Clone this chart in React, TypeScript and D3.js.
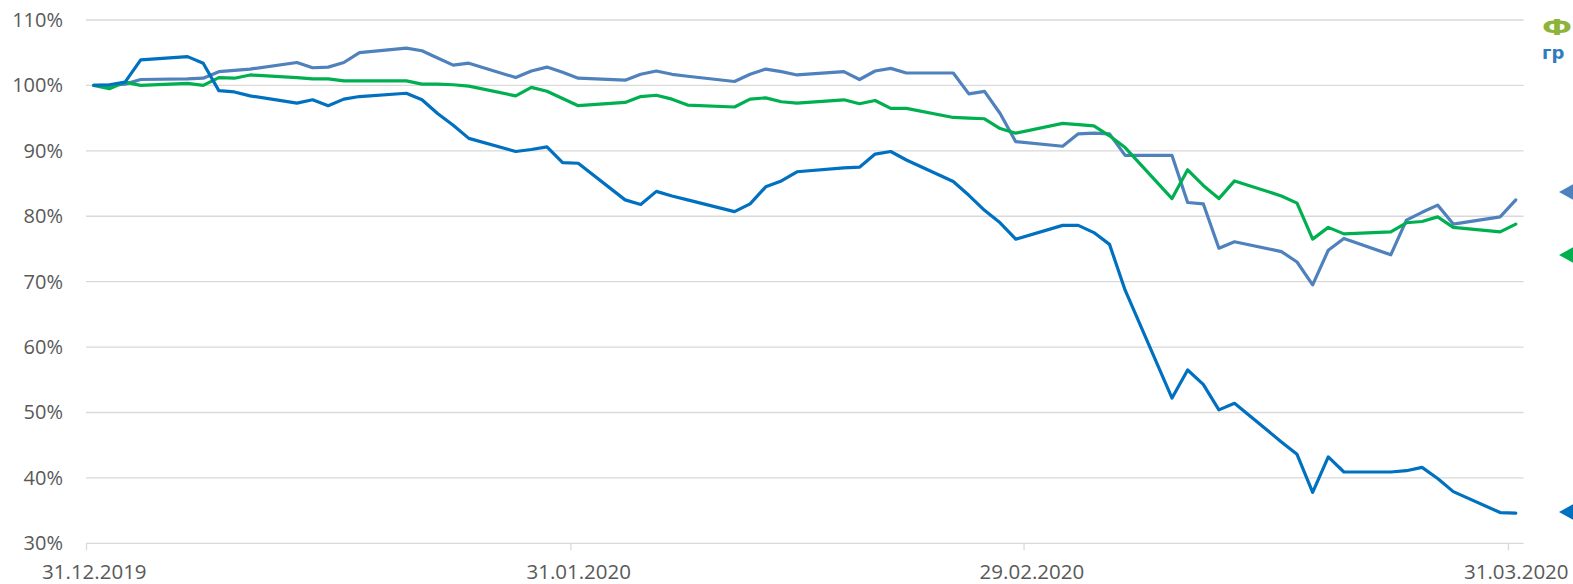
import { useEffect, useRef } from 'react';
import * as d3 from 'd3';

// trading days (weekdays) shown on the chart
const DATES = [
  '2019-12-31',
  '2020-01-01', '2020-01-02', '2020-01-03', '2020-01-06', '2020-01-07', '2020-01-08', '2020-01-09', '2020-01-10',
  '2020-01-13', '2020-01-14', '2020-01-15', '2020-01-16', '2020-01-17', '2020-01-20', '2020-01-21', '2020-01-22',
  '2020-01-23', '2020-01-24', '2020-01-27', '2020-01-28', '2020-01-29', '2020-01-30', '2020-01-31',
  '2020-02-03', '2020-02-04', '2020-02-05', '2020-02-06', '2020-02-07', '2020-02-10', '2020-02-11', '2020-02-12',
  '2020-02-13', '2020-02-14', '2020-02-17', '2020-02-18', '2020-02-19', '2020-02-20', '2020-02-21', '2020-02-24',
  '2020-02-25', '2020-02-26', '2020-02-27', '2020-02-28',
  '2020-03-02', '2020-03-03', '2020-03-04', '2020-03-05', '2020-03-06', '2020-03-09', '2020-03-10', '2020-03-11',
  '2020-03-12', '2020-03-13', '2020-03-16', '2020-03-17', '2020-03-18', '2020-03-19', '2020-03-20', '2020-03-23',
  '2020-03-24', '2020-03-25', '2020-03-26', '2020-03-27', '2020-03-30', '2020-03-31',
];

// light blue series, % of 31.12.2019
const LIGHT_BLUE = [
  100.0,
  100.0, 100.2, 100.9, 101.0, 101.1, 102.1, 102.3, 102.5,
  103.5, 102.7, 102.8, 103.5, 105.0, 105.7, 105.3, 104.2,
  103.1, 103.4, 101.2, 102.2, 102.8, 102.0, 101.1,
  100.8, 101.7, 102.2, 101.7, 101.4, 100.6, 101.7, 102.5,
  102.1, 101.6, 102.1, 100.9, 102.2, 102.6, 101.9, 101.9,
  98.7, 99.1, 95.7, 91.4,
  90.7, 92.6, 92.7, 92.6, 89.3, 89.3, 82.1, 81.9,
  75.1, 76.1, 74.6, 73.0, 69.5, 74.8, 76.6, 74.1,
  79.4, 80.6, 81.7, 78.8, 79.9, 82.5,
];

// green series
const GREEN = [
  100.0,
  99.5, 100.5, 100.0, 100.3, 100.0, 101.2, 101.1, 101.6,
  101.2, 101.0, 101.0, 100.7, 100.7, 100.7, 100.2, 100.2,
  100.1, 99.9, 98.4, 99.7, 99.1, 98.0, 96.9,
  97.4, 98.3, 98.5, 97.9, 97.0, 96.7, 97.9, 98.1,
  97.5, 97.3, 97.8, 97.2, 97.7, 96.5, 96.5, 95.1,
  95.0, 94.9, 93.4, 92.7,
  94.2, 94.0, 93.8, 92.3, 90.5, 82.7, 87.1, 84.7,
  82.7, 85.4, 83.1, 82.0, 76.5, 78.3, 77.3, 77.6,
  79.0, 79.2, 79.9, 78.3, 77.6, 78.8,
];

// dark blue series
const DARK_BLUE = [
  100.0,
  100.1, 100.5, 103.9, 104.4, 103.4, 99.2, 99.0, 98.4,
  97.3, 97.8, 96.9, 97.9, 98.3, 98.8, 97.8, 95.7,
  93.9, 91.9, 89.9, 90.2, 90.6, 88.2, 88.1,
  82.5, 81.8, 83.8, 83.1, 82.5, 80.7, 81.9, 84.5,
  85.4, 86.8, 87.4, 87.5, 89.5, 89.9, 88.6, 85.3,
  83.2, 80.9, 79.0, 76.5,
  78.6, 78.6, 77.5, 75.7, 68.7, 52.2, 56.5, 54.3,
  50.4, 51.4, 45.5, 43.6, 37.8, 43.2, 40.9, 40.9,
  41.1, 41.6, 39.9, 37.9, 34.7, 34.6,
];

const Y_TICKS = [30, 40, 50, 60, 70, 80, 90, 100, 110];
const X_TICKS = ['2019-12-31', '2020-01-31', '2020-02-29', '2020-03-31'];

const SERIES = [
  { key: 'lightBlue', values: LIGHT_BLUE, color: '#4f81bd' },
  { key: 'green', values: GREEN, color: '#00b050' },
  { key: 'darkBlue', values: DARK_BLUE, color: '#0070c0' },
];

// partially visible legend markers on the right edge
const LEGEND_MARKERS = [
  { color: '#4f81bd', y: 192 },
  { color: '#00b050', y: 255 },
  { color: '#0070c0', y: 512 },
];

const WIDTH = 1573;
const HEIGHT = 584;
const FONT = '"Open Sans", "Noto Sans", sans-serif';
const LOGO_FONT = '"DejaVu Sans", sans-serif';

export default function App() {
  const svgRef = useRef<SVGSVGElement>(null);

  useEffect(() => {
    if (!svgRef.current) return;
    const svg = d3.select(svgRef.current);
    svg.selectAll('*').remove();

    const parse = d3.utcParse('%Y-%m-%d');
    const dayMs = 864e5;
    const start = parse('2019-12-31') as Date;
    const end = parse('2020-04-01') as Date;

    const x = d3.scaleUtc().domain([start, end]).range([86, 1523.6]);
    const y = d3.scaleLinear().domain([30, 110]).range([543.3, 20]);
    const half = (x(new Date(start.getTime() + dayMs)) - x(start)) / 2;

    // Grid
    svg.append('g')
      .selectAll('line')
      .data(Y_TICKS)
      .join('line')
      .attr('x1', x(start))
      .attr('x2', x(end))
      .attr('y1', d => y(d))
      .attr('y2', d => y(d))
      .attr('stroke', '#d9d9d9')
      .attr('stroke-width', 1.3);

    // Y labels
    svg.append('g')
      .selectAll('text')
      .data(Y_TICKS)
      .join('text')
      .attr('x', 63)
      .attr('y', d => y(d) + 7)
      .attr('text-anchor', 'end')
      .attr('fill', '#595959')
      .attr('font-family', FONT)
      .attr('font-size', '20px')
      .text(d => `${d}%`);

    // X axis
    const xAxis = svg.append('g')
      .attr('transform', `translate(0,${y(30)})`)
      .call(
        d3.axisBottom(x)
          .tickValues(X_TICKS.map(d => parse(d) as Date))
          .tickFormat(d3.utcFormat('%d.%m.%Y') as any)
          .tickSizeInner(7)
          .tickSizeOuter(0)
      );
    xAxis.select('.domain').remove();
    xAxis.attr('font-family', FONT).attr('font-size', '20.5px');
    xAxis.selectAll('.tick line').attr('stroke', '#d9d9d9').attr('stroke-width', 1.3);
    xAxis.selectAll('.tick text')
      .attr('x', half)
      .attr('y', 35.5)
      .attr('dy', null)
      .attr('fill', '#595959');

    // Lines
    const dates = DATES.map(d => new Date((parse(d) as Date).getTime() + dayMs / 2));
    const line = d3.line<number>()
      .x((d, i) => x(dates[i]))
      .y(d => y(d));

    SERIES.forEach(s => {
      svg.append('path')
        .datum(s.values)
        .attr('fill', 'none')
        .attr('stroke', s.color)
        .attr('stroke-width', 3.2)
        .attr('stroke-linejoin', 'round')
        .attr('stroke-linecap', 'round')
        .attr('d', line);
    });

    // Legend markers (cut by the right edge)
    LEGEND_MARKERS.forEach(m => {
      const tip = 1559;
      svg.append('path')
        .attr('d', `M${tip},${m.y} L${tip + 22},${m.y - 12} L${tip + 22},${m.y + 12} Z`)
        .attr('fill', m.color);
    });

    // Logo fragment in the corner
    svg.append('text')
      .attr('x', 1542)
      .attr('y', 35)
      .attr('fill', '#8db33a')
      .attr('font-family', LOGO_FONT)
      .attr('font-weight', 700)
      .attr('font-size', '21px')
      .attr('textLength', 30)
      .attr('lengthAdjust', 'spacingAndGlyphs')
      .text('Ф');
    svg.append('text')
      .attr('x', 1542)
      .attr('y', 59)
      .attr('fill', '#2e7bbd')
      .attr('font-family', LOGO_FONT)
      .attr('font-weight', 600)
      .attr('font-size', '18px')
      .text('гр');
  }, []);

  return (
    <div style={{ position: 'absolute', left: 0, top: 0, width: WIDTH, height: HEIGHT, overflow: 'hidden', background: '#fff' }}>
      <svg ref={svgRef} width={WIDTH} height={HEIGHT} style={{ display: 'block' }}></svg>
    </div>
  );
}
